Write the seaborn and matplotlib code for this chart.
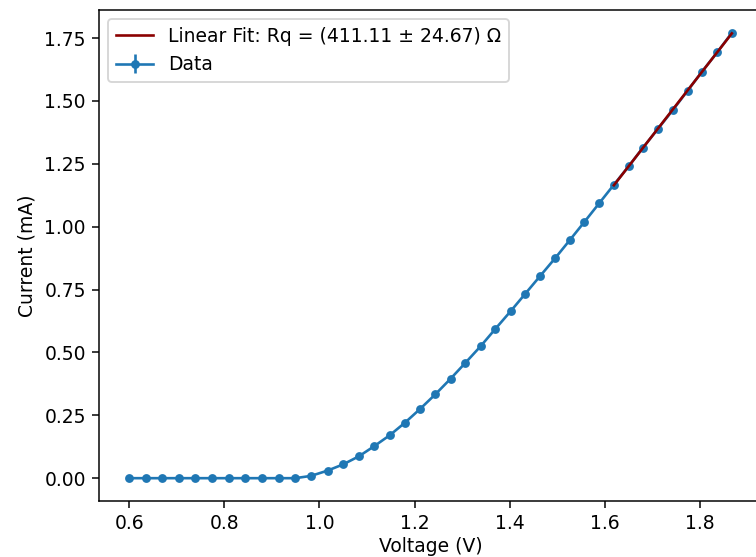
import numpy as np
import pandas as pd
import matplotlib
matplotlib.use("Agg")
import matplotlib.pyplot as plt
import seaborn as sns

voltage = [0.600, 0.635, 0.670, 0.704, 0.739, 0.774, 0.809, 0.844, 0.879, 0.914,
           0.949, 0.982, 1.017, 1.050, 1.083, 1.115, 1.148, 1.180, 1.212, 1.244,
           1.276, 1.307, 1.339, 1.370, 1.402, 1.433, 1.464, 1.496, 1.526, 1.557,
           1.588, 1.619, 1.650, 1.680, 1.712, 1.743, 1.774, 1.804, 1.836, 1.867]
current = [0.000, 0.000, 0.000, 0.000, 0.000, 0.000, 0.000, 0.000, 0.000, 0.000,
           0.000, 0.009, 0.030, 0.055, 0.087, 0.127, 0.171, 0.221, 0.276, 0.334,
           0.396, 0.459, 0.525, 0.594, 0.664, 0.734, 0.804, 0.876, 0.946, 1.019,
           1.093, 1.167, 1.240, 1.314, 1.390, 1.464, 1.541, 1.616, 1.693, 1.771]
current_err = [0.002] * len(current)
fit_start = 31
fit_label = "Linear Fit: Rq = (411.11 ± 24.67) Ω"

df = pd.DataFrame({"V": voltage, "I": current})
fit_df = df.iloc[fit_start:].copy()
coef = np.polyfit(fit_df["V"], fit_df["I"], 1)
fit_df["fit"] = np.polyval(coef, fit_df["V"])

dpi = 135
fig = plt.figure(figsize=(756 / dpi, 557 / dpi), dpi=dpi)
W, H = 756, 557
ax = fig.add_axes([99 / W, (H - 501) / H, 663 / W, 491 / H])

ax.errorbar(df["V"], df["I"], yerr=current_err, fmt="-o", color="#1f77b4",
            markersize=3.7, linewidth=1.4, label="Data", zorder=2)
sns.lineplot(data=fit_df, x="V", y="fit", color="darkred", linewidth=1.4,
             label=fit_label, ax=ax, zorder=4)

ax.set_xlabel("Voltage (V)", labelpad=2)
ax.set_ylabel("Current (mA)")
ax.legend(loc="upper left")

fig.savefig("out.png", dpi=dpi)
